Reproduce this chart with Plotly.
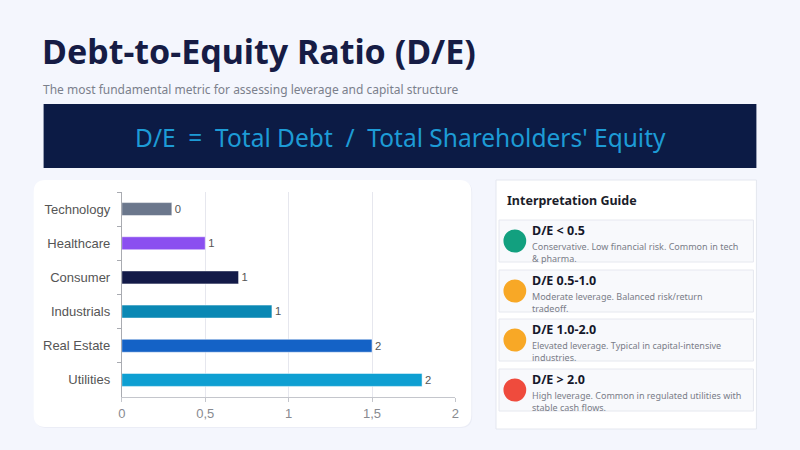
import math
import plotly.graph_objects as go

W, H = 800, 450

# chart data
sectors = ["Technology", "Healthcare", "Consumer", "Industrials", "Real Estate", "Utilities"]
de_ratio = [0.3, 0.5, 0.7, 0.9, 1.5, 1.8]
bar_colors = ["#6b778c", "#8b4ff0", "#131a48", "#0a88b4", "#1462c6", "#0e9fd2"]
x_ticks = [0, 0.5, 1, 1.5, 2]

# interpretation guide
guide_titles = ["D/E < 0.5", "D/E 0.5-1.0", "D/E 1.0-2.0", "D/E > 2.0"]
guide_texts = [
    "Conservative. Low financial risk. Common in tech<br>& pharma.",
    "Moderate leverage. Balanced risk/return<br>tradeoff.",
    "Elevated leverage. Typical in capital-intensive<br>industries.",
    "High leverage. Common in regulated utilities with<br>stable cash flows.",
]
guide_colors = ["#12a07f", "#f8a826", "#f8a826", "#ef4b3d"]


def px(x):
    return x / W


def py(y):
    return 1 - y / H


def rounded_rect(x0, y0, x1, y1, r):
    # path in paper coords built from pixel values
    p = [
        f"M {px(x0 + r)} {py(y0)}",
        f"L {px(x1 - r)} {py(y0)}",
        f"Q {px(x1)} {py(y0)} {px(x1)} {py(y0 + r)}",
        f"L {px(x1)} {py(y1 - r)}",
        f"Q {px(x1)} {py(y1)} {px(x1 - r)} {py(y1)}",
        f"L {px(x0 + r)} {py(y1)}",
        f"Q {px(x0)} {py(y1)} {px(x0)} {py(y1 - r)}",
        f"L {px(x0)} {py(y0 + r)}",
        f"Q {px(x0)} {py(y0)} {px(x0 + r)} {py(y0)}",
        "Z",
    ]
    return " ".join(p)


labels = [str(math.floor(v + 0.5)) for v in de_ratio]

fig = go.Figure()
fig.add_trace(go.Bar(
    y=sectors, x=de_ratio, orientation="h",
    marker=dict(color=bar_colors, line=dict(color="rgba(255,255,255,0.5)", width=1)),
    width=0.38,
    text=labels, textposition="outside", cliponaxis=False,
    textfont=dict(family="Liberation Sans, Arial", size=13, color="#555555"),
    hoverinfo="skip",
))

shapes = []
# chart card
shapes.append(dict(type="path", path=rounded_rect(31, 181, 473, 428, 12), xref="paper", yref="paper",
                   fillcolor="rgba(20,30,80,0.04)", line=dict(width=0), layer="below"))
shapes.append(dict(type="path", path=rounded_rect(30, 180, 472, 427, 12), xref="paper", yref="paper",
                   fillcolor="white", line=dict(width=0), layer="below"))
# formula band
shapes.append(dict(type="rect", x0=px(40), x1=px(760), y0=py(104), y1=py(168), xref="paper", yref="paper",
                   fillcolor="#0c1b45", line=dict(width=0), layer="below"))
# guide card
shapes.append(dict(type="rect", x0=px(497), x1=px(760), y0=py(180), y1=py(429), xref="paper", yref="paper",
                   fillcolor="white", line=dict(color="#e4e7ef", width=1), layer="below"))

annotations = [
    dict(text="<b>Debt-to-Equity Ratio (D/E)</b>", x=px(36), y=py(51), xanchor="left", yanchor="middle",
         font=dict(family="Noto Sans", size=34, color="#161c45")),
    dict(text="The most fundamental metric for assessing leverage and capital structure", x=px(37), y=py(90),
         xanchor="left", yanchor="middle", font=dict(family="Noto Sans", size=12, color="#7b808c")),
    dict(text="D/E  =  Total Debt  /  Total Shareholders' Equity", x=px(400), y=py(137),
         xanchor="center", yanchor="middle", font=dict(family="Noto Sans", size=24.5, color="#1d9bd6")),
    dict(text="<b>Interpretation Guide</b>", x=px(506), y=py(200), xanchor="left", yanchor="middle",
         font=dict(family="Noto Sans", size=12.5, color="#1b1d2a")),
]

box_tops = [220, 270, 319, 369]
for top, title, desc, col in zip(box_tops, guide_titles, guide_texts, guide_colors):
    shapes.append(dict(type="rect", x0=px(500), x1=px(757), y0=py(top), y1=py(top + 42), xref="paper", yref="paper",
                       fillcolor="#f8f9fc", line=dict(color="#e6e8ef", width=1), layer="below"))
    cy = top + 21
    shapes.append(dict(type="circle", xref="paper", yref="paper", layer="below",
                       x0=px(504.5), x1=px(527.5), y0=py(cy + 11.5), y1=py(cy - 11.5),
                       fillcolor=col, line=dict(width=0)))
    annotations.append(dict(text=f"<b>{title}</b>", x=px(532), y=py(top + 10.5), xanchor="left", yanchor="middle",
                            borderpad=0, font=dict(family="Noto Sans", size=12.5, color="#15172a")))
    annotations.append(dict(text=desc, x=px(532), y=py(top + 32), xanchor="left", yanchor="middle", align="left",
                            borderpad=0, font=dict(family="Noto Sans", size=9, color="#7a7d88")))

for a in annotations:
    a.update(xref="paper", yref="paper", showarrow=False)

fig.update_layout(
    width=W, height=H,
    margin=dict(l=0, r=0, t=0, b=0),
    paper_bgcolor="#f4f6fd",
    plot_bgcolor="rgba(0,0,0,0)",
    separators=",.",
    showlegend=False,
    shapes=shapes,
    annotations=annotations,
    bargap=0.6,
    xaxis=dict(
        domain=[px(119), px(456)], range=[0, 2], tickvals=x_ticks,
        showgrid=True, gridcolor="#e6e7ee", gridwidth=1, zeroline=False,
        showline=True, linecolor="#c4c6cc", ticks="outside", ticklen=4, tickcolor="#c4c6cc",
        tickfont=dict(family="Liberation Sans, Arial", size=13, color="#888a90"),
        fixedrange=True,
    ),
    yaxis=dict(
        domain=[py(397), py(192)], categoryorder="array", categoryarray=sectors, autorange="reversed",
        showline=True, linecolor="#a9abb1", ticks="outside", ticklen=4, tickcolor="#a9abb1",
        tickson="boundaries", showgrid=False,
        tickfont=dict(family="Liberation Sans, Arial", size=13, color="#555555"),
        ticklabelstandoff=8, fixedrange=True,
    ),
)

# drop the page's default body margin so the 800x450 figure fills the window
fig.write_html("out.html", config={"displayModeBar": False},
               post_script="document.body.style.margin='0';document.body.style.background='#f4f6fd';")
